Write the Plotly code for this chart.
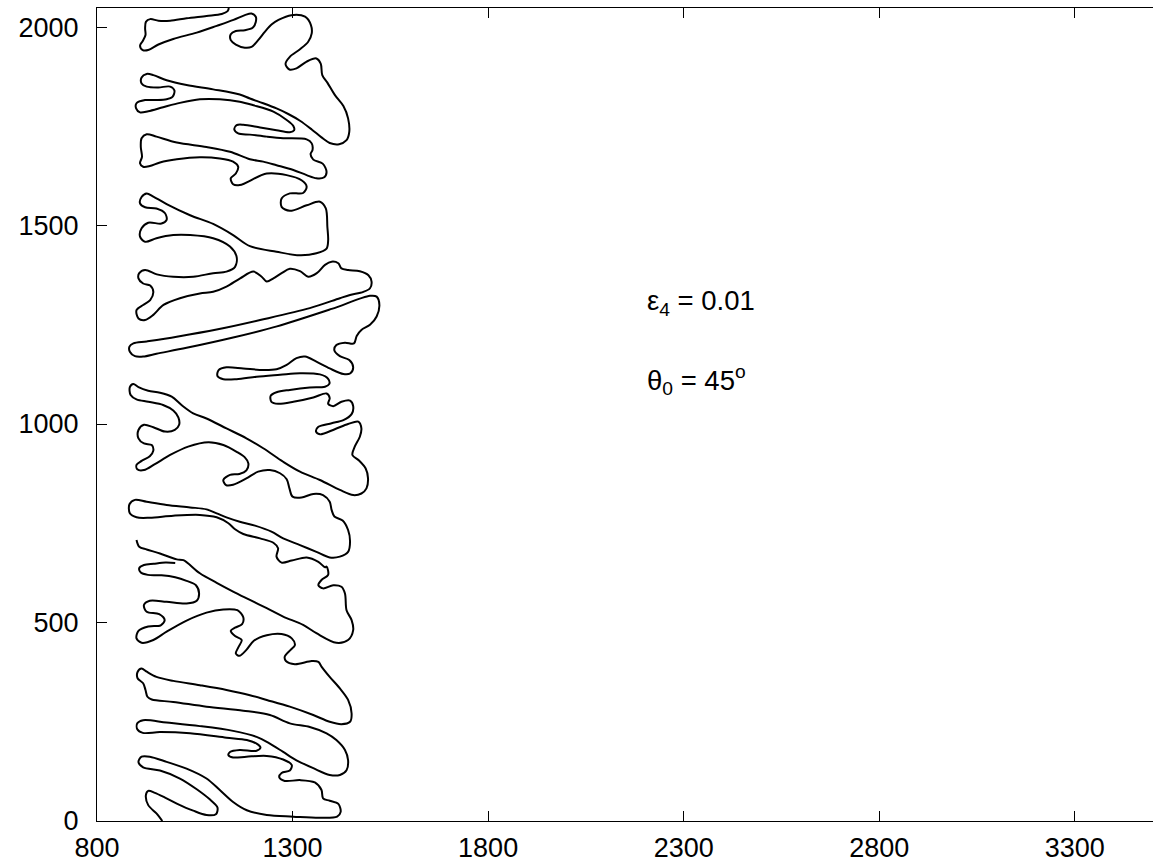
import plotly.graph_objects as go

# ---- contour (data units) ----
top_x = [1137,1134,1119,1080,1029,987,957,936,925,923,924,917,910,917,931,957,995,1055,1106,1149,1178,1195,1206,1206,1198,1178,1155,1142,1142,1155,1178,1195,1212,1229,1247,1264,
         1297,1332,1347,1349,1340,1319,1293,1282,1292,1310,1336,1361,1372,1376,1389,1408,1430,1442,1445,1438,1419,1395,1374,1349,1319,1289,1259,1225,1191,
         1165,1097,1029,978,944,927,914,914,927,957,987,998,993,978,952,923,901,900,910,931,969,1012,1063,1114,1165,1200,1251,1285,1302,1304,1293,1259,1217,1174,1157,1151,1161,1191,1234,1276,1336,1349,1351,1346,1353,1377,1387,1380,1361,1336,1302,1259,1225,1191,1140,1080,1004,952,927,914,912,915,910,918,935,961,1004,1063,1114,1148,1161,1155,1142,1148,1165,
         1234,1285,1323,1336,1327,1293,1272,1272,1293,1336,1370,1385,1389,1391,1387,1361,1319,1259,1191,1148,1097,1038,978,944,927,914,910,923,952,974,978,965,931,914,910,923,952,995,1038,1097,1140,1157,1153,1131,
         1097,1046,995,953,923,908,906,918,936,944,936,918,901,906,923,944,970,1012,1063,1097,1131,1166,1200,1221,1234,1251,1272,1293,1319,1340,1362,1383,1400,1417,1425,1442,1472,1494,1502,1498,1481,
         1447,1421,1344,1217,1106,1004,927,893,883,884,897,918,952,1029,1148,1260,1400,1498,1515,1522,1515,1498,1476,1464,1457,1434,1412,1407,1421,1445,1455,1448,1430,1395,1361,1332,1310,1285,1259,1225,1174,1131,1111,1108,1123,1157,1208,1268,1319,1370,1391,1394,1383,1344,1293,1259,1244,1246,1263,1302,1353,1387,1395,1391,1404,1425,1447,1455,1451,1430,1400,1366,1360,1370,1408,1442,1468,1476,1472,1459,1453,1470,1487,1493,1489,1476,1455,1421,1370,1319,1276,1225,1182,1131,1080,1046,1016,991,961,931,906,893,884,886,901,931,969,995,1008,1010,999,974,944,920,906,906,920,940,944,935,914,901,903,920,948,987,1033,1085,1123,1157,1178,1187,1182,1164,1140,1123,1130,1148,1182,1212,1242,1268,1285,1292,1300,1323,1353,1378,1395,1400,1407,1428,1442,1447,1442,1421,1395,1361,1319,1276,1246,1204,1165,1131,1106,1080,1038,978,927,897,883,884,901,935,995,1063,1106,1136,1153,1174,1217,1251,1263,1259,1272,1298,1336,1366,1383,
         1387,1391,1374,1366,1378,1404,1425,1434,1438,1451,1455,1442,1412,1361,1327,1276,1234,1191,1148,1106,1063,1021,1004,961,927,908,901]
top_y = [2048,2040,2033,2028,2022,2016,2016,2020,2013,1997,1980,1965,1953,1942,1942,1956,1970,1986,2003,2018,2030,2034,2026,2013,1998,1992,1990,1982,1967,1956,1948,1950,1967,1988,2007,2018,
         2030,2026,2005,1984,1963,1944,1925,1907,1893,1896,1913,1921,1908,1879,1860,1829,1801,1770,1736,1715,1705,1708,1722,1742,1764,1781,1795,1808,1820,
         1830,1843,1854,1866,1879,1882,1873,1858,1850,1848,1850,1840,1824,1818,1816,1816,1808,1795,1785,1788,1798,1809,1818,1818,1812,1803,1787,1766,1751,1740,1735,1740,1747,1754,1753,1742,1732,1729,1724,1720,1717,1707,1690,1680,1666,1656,1635,1621,1619,1627,1640,1652,1661,1667,1686,1698,1709,1724,1730,1720,1698,1673,1657,1648,1650,1659,1667,1672,1669,1661,1648,1631,1619,1604,1602,
         1631,1627,1614,1598,1582,1581,1568,1547,1537,1551,1560,1543,1497,1463,1442,1430,1425,1434,1448,1476,1504,1526,1554,1573,1581,1572,1556,1546,1543,1531,1514,1505,1507,1493,1472,1459,1468,1476,1476,1468,1447,1421,1396,1384,
         1380,1371,1371,1377,1388,1380,1367,1354,1349,1333,1312,1300,1287,1266,1262,1275,1300,1317,1329,1333,1346,1367,1384,1371,1359,1367,1380,1391,1385,1371,1380,1401,1409,1405,1392,1388,1385,1375,1359,1342,1333,
         1325,1317,1292,1262,1238,1220,1208,1203,1195,1182,1171,1170,1177,1192,1218,1246,1290,1323,1321,1300,1271,1250,1237,1222,1203,1205,1199,1185,1171,1161,1143,1128,1126,1140,1157,1170,1166,1149,1138,1136,1140,1143,1136,1121,1113,1113,1119,1124,1128,1125,1114,1101,1094,1092,1086,1080,1071,1056,1051,1056,1067,1077,1065,1051,1045,1056,1059,1045,1025,1010,1002,993,981,974,987,1000,1006,989,968,943,922,908,888,863,838,825,821,834,859,880,905,939,964,989,1014,1027,1048,1069,1079,1084,1093,1101,1093,1073,1062,1056,1048,1034,1017,998,985,981,992,998,985,964,951,947,933,919,907,897,886,884,899,922,943,954,947,930,916,901,883,874,872,859,846,847,863,880,884,876,861,838,817,815,824,821,804,783,767,757,733,704,678,666,664,678,695,712,729,744,754,765,775,785,790,796,804,809,798,775,765,764,769,771,765,750,735,723,712,701,687,666,651,656,664,653,639,
         641,620,607,594,586,594,590,573,531,506,481,456,449,473,494,515,536,557,578,600,624,657,659,674,684,691,708]

low_x = [1000,975,945,920,908,912,930,965,1000,1029,1053,1061,1055,1029,978,935,920,927,959,973,963,931,906,901,914,944,978,1029,1080,1123,1159,1174,1171,1153,1142,1153,1170,1161,1155,1164,1182,1201,1234,1272,1298,1306,1295,1280,1283,1306,1349,1366,1374,1395,1421,1442,1451,1447,1425,1395,1353,1293,1234,1191,1131,1063,995,952,927,914,904,904,918,924,929,940,995,1080,1174,1242,1293,1344,1387,1412,1434,1442,1438,1421,1395,1353,1310,1276,1242,1208,1148,1063,978,918,903,903,917,961,1038,1131,1183,1208,1218,1208,1165,1140,1136,1148,1182,1234,1276,1298,1293,1272,1266,1280,1319,1357,1374,1378,1395,1417,1423,1414,1370,1302,1234,1183,1148,1114,1080,1029,978,935,914,906,918,961,1012,1055,1089,1108,1104,1080,1046,1004,974,948,931,925,931,952,967]
low_y = [650,651,648,645,637,626,620,619,614,605,594,573,555,548,552,555,544,527,521,506,493,490,479,460,449,456,477,505,525,533,531,513,496,487,479,466,456,437,422,416,431,454,468,471,460,443,431,414,403,395,403,401,389,363,334,305,271,250,244,250,267,288,305,317,330,342,353,363,376,384,376,359,347,330,313,306,300,288,278,267,246,237,221,204,179,153,128,116,116,133,153,174,195,212,227,239,248,254,246,231,222,224,221,210,204,195,185,177,179,174,166,160,162,164,155,141,127,121,110,101,103,97,78,57,51,43,23,11,8,11,15,27,48,78,107,132,149,162,162,149,135,127,107,80,54,34,17,15,26,44,59,71,76,65,40,19,0]

x_ticks = [800, 1300, 1800, 2300, 2800, 3300]
y_ticks = [0, 500, 1000, 1500, 2000]

fig = go.Figure()
for xs, ys in [(top_x, top_y), (low_x, low_y)]:
    fig.add_trace(go.Scatter(x=xs, y=ys, mode="lines",
                             line=dict(color="black", width=2, shape="spline", smoothing=0.9),
                             hoverinfo="skip", showlegend=False))

tick_font = dict(family="Liberation Sans, Arial, sans-serif", size=27, color="black")
ann_font = dict(family="Liberation Sans, Arial, sans-serif", size=27.5, color="black")
fig.add_annotation(x=2201, y=1305, xref="x", yref="y", xanchor="left", yanchor="middle",
                   text="ε<sub>4</sub> = 0.01", showarrow=False, font=ann_font)
fig.add_annotation(x=2201, y=1111, xref="x", yref="y", xanchor="left", yanchor="middle",
                   text="θ<sub>0</sub> = 45<sup>o</sup>", showarrow=False, font=ann_font)

fig.update_layout(
    width=1154, height=863,
    margin=dict(l=97, r=1, t=8, b=42, autoexpand=False),
    paper_bgcolor="white", plot_bgcolor="white",
    font=tick_font, showlegend=False,
)
fig.update_xaxes(range=[800, 3500], tickvals=x_ticks, ticks="inside", ticklen=10,
                 tickcolor="black", showline=True, linecolor="black", linewidth=1,
                 mirror="ticks", showgrid=False, zeroline=False, tickfont=tick_font,
                 automargin=False, ticklabelstandoff=3)
fig.update_yaxes(range=[0, 2048], tickvals=y_ticks, ticks="inside", ticklen=10,
                 tickcolor="black", showline=True, linecolor="black", linewidth=1,
                 mirror=False, showgrid=False, zeroline=False, tickfont=tick_font,
                 automargin=False, ticklabelstandoff=12)

fig.write_html("out.html", config={"displayModeBar": False},
               post_script="document.body.style.margin='0px';document.body.style.overflow='hidden';")
